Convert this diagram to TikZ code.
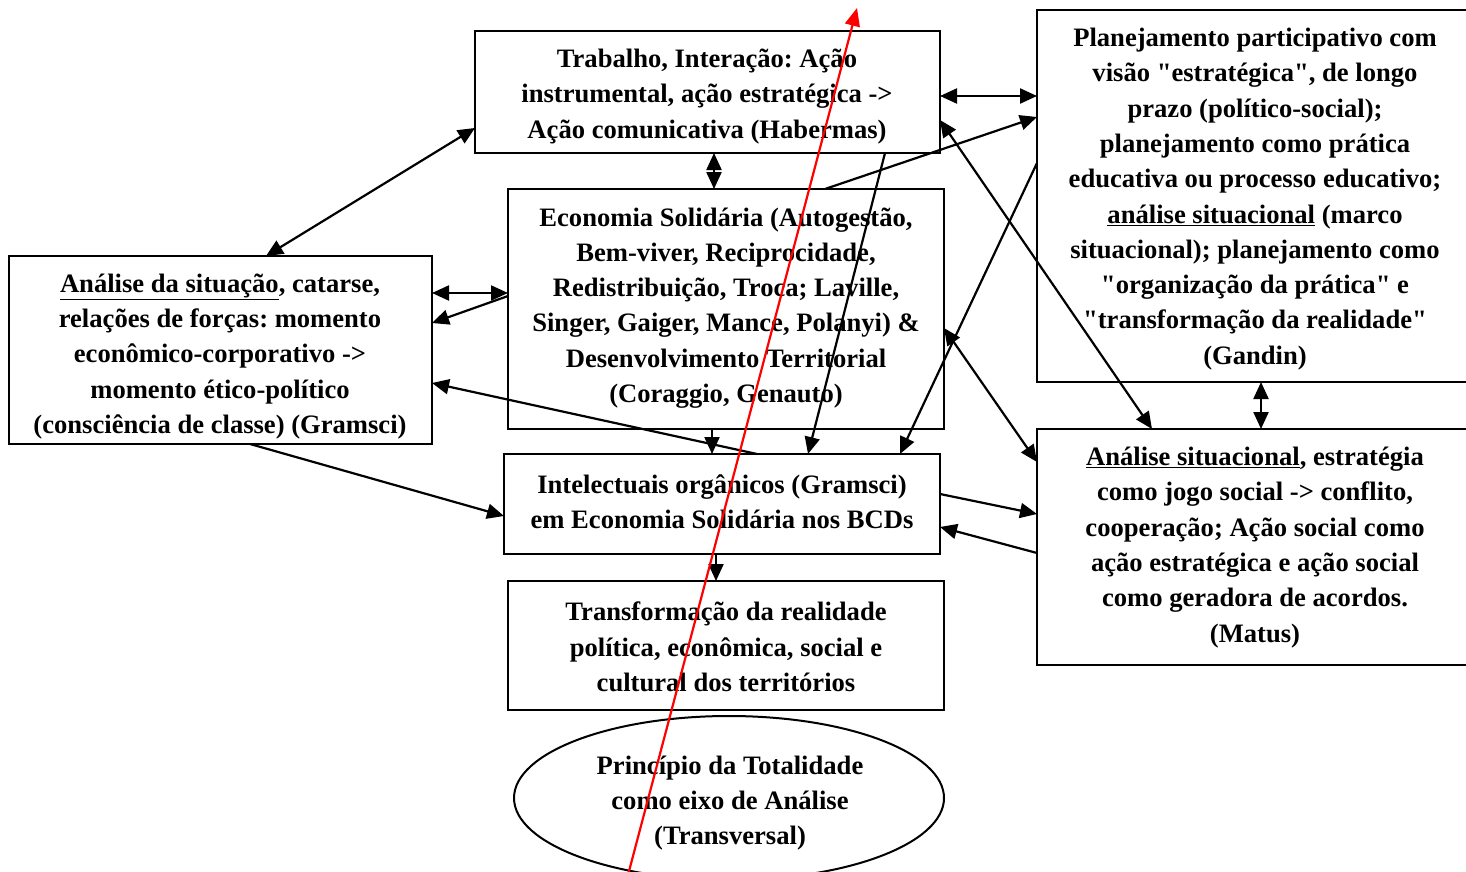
\documentclass[tikz,border=0pt]{standalone}
\usepackage{fontspec}
\setmainfont{Liberation Serif}[Ligatures=TeXOff]
\usetikzlibrary{arrows.meta,shapes.geometric}
\frenchspacing
\begin{document}
\begin{tikzpicture}[x=1pt,y=-1pt,
  every node/.style={inner sep=0pt, outer sep=0pt},
  txt/.style={font=\fontsize{26.6}{35.3}\selectfont\bfseries, align=center},
  box/.style={draw, line width=2pt, rectangle},
  oval/.style={draw, line width=2pt, ellipse},
  link/.style={line width=2.2pt, -{Triangle[length=17pt,width=15pt]}},
  dlink/.style={line width=2.2pt, {Triangle[length=17pt,width=15pt]}-{Triangle[length=17pt,width=15pt]}},
  redlink/.style={red, line width=2.2pt, -{Triangle[length=18pt,width=15pt]}}]
\useasboundingbox (0,0) rectangle (1466,872);
\clip (0,0) rectangle (1466,872);

% frames
\node[box, minimum width=465pt, minimum height=122pt] (hab) at (707.5,92) {};
\node[box, minimum width=436pt, minimum height=240pt] (eco) at (726,309) {};
\node[box, minimum width=423pt, minimum height=188pt] (gram) at (220.5,350) {};
\node[box, minimum width=436pt, minimum height=100pt] (int) at (722,504) {};
\node[box, minimum width=436pt, minimum height=129pt] (tra) at (726,645.5) {};
\node[oval, minimum width=430pt, minimum height=164pt] (tot) at (729,798) {};
\node[box, minimum width=436pt, minimum height=372pt] (gan) at (1255,196) {};
\node[box, minimum width=436pt, minimum height=236pt] (mat) at (1255,547) {};

% texts
\node[txt] (habtxt) at (707,96.5)
  {Trabalho, Interação: Ação\\instrumental, ação estratégica ->\\Ação comunicativa (Habermas)};
\node[txt] (ecotxt) at (726,308)
  {Economia Solidária (Autogestão,\\Bem-viver, Reciprocidade,\\Redistribuição, Troca; Laville,\\Singer, Gaiger, Mance, Polanyi) \&\\Desenvolvimento Territorial\\(Coraggio, Genauto)};
\node[txt] (gramtxt) at (220,356.5)
  {\underline{Análise da situação}, catarse,\\relações de forças: momento\\econômico-corporativo ->\\momento ético-político\\(consciência de classe) (Gramsci)};
\node[txt] (inttxt) at (722,502)
  {Intelectuais orgânicos (Gramsci)\\em Economia Solidária nos BCDs};
\node[txt] (tratxt) at (726,647)
  {Transformação da realidade\\política, econômica, social e\\cultural dos territórios};
\node[txt] (tottxt) at (730,803)
  {Princípio da Totalidade\\como eixo de Análise\\(Transversal)};
\node[txt] (gantxt) at (1255,199)
  {Planejamento participativo com\\visão "estratégica", de longo\\prazo (político-social);\\planejamento como prática\\educativa ou processo educativo;\\\underline{análise situacional} (marco\\situacional); planejamento como\\"organização da prática" e\\"transformação da realidade"\\(Gandin)};
\node[txt] (mattxt) at (1255,547.5)
  {\underline{Análise situacional}, estratégia\\como jogo social -> conflito,\\cooperação; Ação social como\\ação estratégica e ação social\\como geradora de acordos.\\(Matus)};

% connectors
\draw[dlink] (gram.north -| 266,0) -- (hab.west |- 0,128);
\draw[dlink] (hab.south -| 714,0) -- (eco.north -| 714,0);
\draw[dlink] (hab.east |- 0,96) -- (gan.west |- 0,96);
\draw[link] (eco.north -| 825,0) -- (gan.west |- 0,117);
\draw[link] (hab.south -| 885,0) -- (int.north -| 808,0);
\draw[link] (gan.west |- 0,163) -- (int.north -| 900,0);
\draw[dlink] (hab.east |- 0,120) -- (mat.north -| 1152,0);
\draw[dlink] (eco.east |- 0,328) -- (mat.west |- 0,462);
\draw[dlink] (gram.east |- 0,293) -- (eco.west |- 0,293);
\draw[link] (eco.west |- 0,296) -- (gram.east |- 0,323);
\draw[link] (int.north -| 757,0) -- (gram.east |- 0,383);
\draw[link] (eco.south -| 712,0) -- (int.north -| 712,0);
\draw[link] (gram.south -| 250,0) -- (int.west |- 0,516);
\draw[link] (int.east |- 0,494) -- (mat.west |- 0,514);
\draw[link] (mat.west |- 0,553) -- (int.east |- 0,527);
\draw[link] (int.south -| 716,0) -- (tra.north -| 716,0);
\draw[dlink] (gan.south -| 1261,0) -- (mat.north -| 1261,0);

% transversal axis
\coordinate (axisfoot) at (628,875);
\coordinate (axistop) at (857,8);
\draw[redlink] (axisfoot) -- (axistop);
\end{tikzpicture}
\end{document}
